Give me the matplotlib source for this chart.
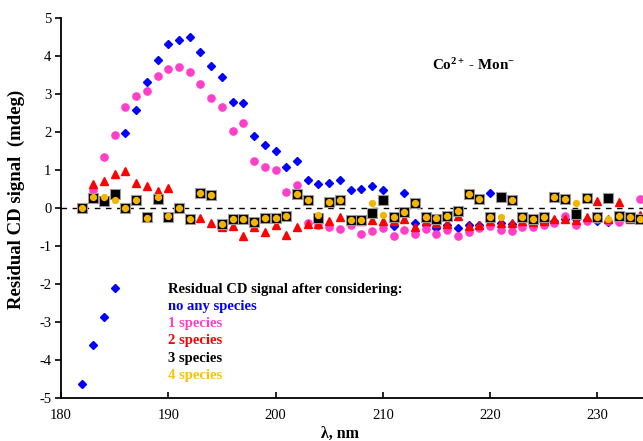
import matplotlib
matplotlib.use("Agg")
import matplotlib.pyplot as plt
import numpy as np

plt.rcParams['font.family'] = ['Liberation Serif', 'DejaVu Serif']
plt.rcParams['mathtext.fontset'] = 'custom'
plt.rcParams['mathtext.rm'] = 'Liberation Serif'
plt.rcParams['mathtext.bf'] = 'Liberation Serif:bold'
plt.rcParams['mathtext.it'] = 'Liberation Serif:italic'

wavelength = list(range(182, 235))

no_species = [-4.63, -3.6, -2.87, -2.1, 1.97, 2.58, 3.32, 3.89, 4.31, 4.42,
              4.49, 4.11, 3.74, 3.44, 2.79, 2.77, 1.9, 1.66, 1.51, 1.08,
              1.23, 0.74, 0.64, 0.67, 0.73, 0.47, 0.49, 0.58, 0.48, -0.48,
              0.4, -0.4, -0.45, -0.53, -0.45, -0.53, -0.45, -0.45, 0.39, -0.4,
              -0.42, -0.32, -0.4, -0.4, -0.35, -0.3, -0.3, -0.32, -0.35, -0.38,
              -0.3, -0.3, -0.3]

species_1 = [0.0, 0.47, 1.33, 1.93, 2.65, 2.94, 3.09, 3.48, 3.67, 3.7,
             3.57, 3.27, 2.89, 2.65, 2.03, 2.23, 1.24, 1.09, 0.99, 0.42,
             0.6, -0.4, -0.45, -0.51, -0.55, -0.46, -0.68, -0.61, -0.52, -0.74,
             -0.59, -0.69, -0.56, -0.68, -0.58, -0.73, -0.64, -0.53, -0.47, -0.58,
             -0.6, -0.49, -0.51, -0.45, -0.4, -0.21, -0.46, -0.35, -0.3, -0.35,
             -0.36, -0.3, 0.23]

species_2 = [0.0, 0.63, 0.71, 0.89, 0.97, 0.65, 0.59, 0.45, 0.52, 0.0,
             -0.3, -0.26, -0.39, -0.49, -0.48, -0.74, -0.5, -0.63, -0.45, -0.71,
             -0.5, -0.42, -0.41, -0.34, -0.23, -0.3, -0.35, -0.32, -0.33, -0.35,
             -0.29, -0.51, -0.35, -0.4, -0.41, -0.21, -0.47, -0.45, -0.35, -0.4,
             -0.39, -0.35, -0.38, -0.35, -0.29, -0.3, -0.32, -0.25, 0.18, -0.3,
             0.16, -0.3, -0.18]

species_3 = [0.0, 0.26, 0.18, 0.36, 0.0, 0.21, -0.25, 0.24, -0.23, 0.0,
             -0.29, 0.4, 0.34, -0.41, -0.29, -0.29, -0.36, -0.27, -0.26, -0.21,
             0.36, 0.21, -0.27, 0.17, 0.21, -0.32, -0.32, -0.12, 0.21, -0.24,
             -0.1, 0.12, -0.23, -0.28, -0.22, -0.09, 0.36, 0.23, -0.25, 0.28,
             0.2, -0.25, -0.29, -0.23, 0.28, 0.24, -0.16, 0.25, -0.23, 0.25,
             -0.21, -0.25, -0.29]

species_4 = [0.0, 0.28, 0.28, 0.2, 0.0, 0.22, -0.26, 0.3, -0.22, 0.0,
             -0.29, 0.4, 0.34, -0.41, -0.29, -0.29, -0.36, -0.27, -0.26, -0.21,
             0.36, 0.22, -0.18, 0.17, 0.21, -0.32, -0.32, 0.14, -0.19, -0.24,
             -0.1, 0.12, -0.25, -0.27, -0.21, -0.09, 0.36, 0.23, -0.25, -0.25,
             0.2, -0.25, -0.29, -0.23, 0.28, 0.24, 0.14, 0.25, -0.23, -0.3,
             -0.21, -0.25, -0.29]

legend_title = "Residual CD signal after considering:"
legend_labels = ["no any species", "1 species", "2 species", "3 species", "4 species"]

c_blue = '#0000FF'
c_pink = '#FF3FC8'
c_red = '#FF0000'
c_black = '#000000'
c_orange = '#F5B400'
c_orange_txt = '#FFC000'

fig = plt.figure(figsize=(6.43, 4.41), dpi=100)
ax = fig.add_axes([61/643, 43/441, 582/643, 380/441])

ax.plot(wavelength, no_species, linestyle='none', marker='D', markersize=3.6,
        color=c_blue, markeredgecolor=c_blue, zorder=3)
ax.plot(wavelength, species_1, linestyle='none', marker='o', markersize=5.2,
        color=c_pink, markeredgecolor=c_pink, zorder=4)
ax.plot(wavelength, species_2, linestyle='none', marker='^', markersize=5.5,
        color=c_red, markeredgecolor=c_red, zorder=5)
ax.plot(wavelength, species_3, linestyle='none', marker='s', markersize=7.3,
        color=c_black, markeredgecolor='#9a9a9a', markeredgewidth=0.8, zorder=6)
ax.plot(wavelength, species_4, linestyle='none', marker='o', markersize=4.2,
        color=c_orange, markeredgecolor=c_orange, zorder=7)

ax.axhline(0, color='black', linestyle=(0, (4, 4)), linewidth=1.0, zorder=2)

ax.set_xlim(180, 234.25)
ax.set_ylim(-5, 5)
ax.set_xticks([180, 190, 200, 210, 220, 230])
ax.set_yticks(np.arange(-5, 6, 1))
ax.set_yticklabels([str(v) for v in range(-5, 6)])
ax.spines['top'].set_visible(False)
ax.spines['right'].set_visible(False)
ax.spines['left'].set_linewidth(1.3)
ax.spines['bottom'].set_linewidth(1.3)
ax.tick_params(axis='x', direction='in', length=4, width=1.2, labelsize=10.5, pad=8)
ax.tick_params(axis='y', direction='out', length=4, width=1.2, labelsize=10.5, pad=3)

fig.text(16/643, 1 - 199/441, "Residual CD signal  (mdeg)", rotation=90,
         fontsize=13.5, fontweight='bold', ha='center', va='center')
fig.text(340/643, 1 - 434/441, "λ, nm", fontsize=11.5, fontweight='bold',
         ha='center', va='center')

ax.text(0.637, 0.875, r"Co$^{\mathbf{2+}}$ - Mon$^{\mathbf{-}}$",
        transform=ax.transAxes, fontsize=10.8, fontweight='bold',
        ha='left', va='center')

y0 = 289
colors = [c_black, c_blue, c_pink, c_red, c_black, c_orange_txt]
for i, (txt, col) in enumerate(zip([legend_title] + legend_labels, colors)):
    ypix = y0 + i * 17.3
    fig.text(168/643, 1 - ypix/441, txt, color=col, fontsize=10.5,
             fontweight='bold', ha='left', va='center')

fig.savefig("out.png", dpi=100)
